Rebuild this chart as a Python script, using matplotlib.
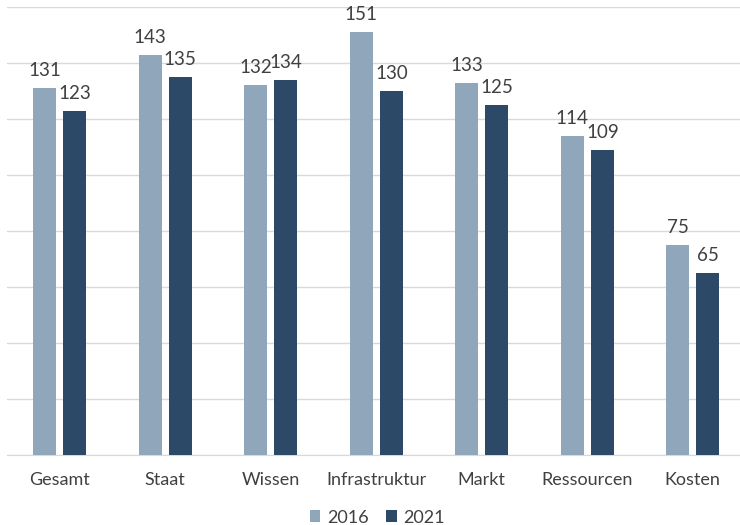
import matplotlib
matplotlib.use("Agg")
import matplotlib.pyplot as plt
import numpy as np

categories = ["Gesamt", "Staat", "Wissen", "Infrastruktur", "Markt", "Ressourcen", "Kosten"]
values_2016 = [131, 143, 132, 151, 133, 114, 75]
values_2021 = [123, 135, 134, 130, 125, 109, 65]
series_labels = ["2016", "2021"]

plt.rcParams['font.family'] = ['Lato', 'DejaVu Sans']
c1, c2 = "#8fa6bb", "#2c4a67"
txt = "#404040"

fig = plt.figure(figsize=(7.4, 5.25), dpi=100)
ax = fig.add_axes([7 / 740, 0.1333, 738.5 / 740, 0.8534])
x = np.arange(len(categories))
w = 0.22
off = 0.143
b1 = ax.bar(x - off, values_2016, w, color=c1, label=series_labels[0], zorder=3)
b2 = ax.bar(x + off, values_2021, w, color=c2, label=series_labels[1], zorder=3)
for bars in (b1, b2):
    for r in bars:
        ax.annotate(f"{int(r.get_height())}", (r.get_x() + r.get_width() / 2, r.get_height()),
                    xytext=(0, 6.5), textcoords="offset points", ha="center", va="bottom",
                    fontsize=13.5, color=txt)
ax.set_ylim(0, 160)
ax.set_xlim(-0.5, len(categories) - 0.5)
ax.set_yticks(np.arange(0, 161, 20))
ax.yaxis.grid(True, color="#d9d9d9", linewidth=1, zorder=0)
ax.tick_params(axis="y", left=False, labelleft=False)
ax.tick_params(axis="x", bottom=False, labelsize=13, colors=txt, pad=9)
ax.set_xticks(x)
ax.set_xticklabels(categories)
for s in ["top", "right", "left"]:
    ax.spines[s].set_visible(False)
ax.spines["bottom"].set_color("#d9d9d9")
leg = fig.legend(handles=[b1, b2], loc="lower center", bbox_to_anchor=(0.51, -0.032), ncol=2,
                 frameon=False, fontsize=13, handlelength=0.6, handleheight=0.6,
                 columnspacing=1.0, handletextpad=0.35)
for t in leg.get_texts():
    t.set_color(txt)
fig.savefig("out.png", dpi=100)
